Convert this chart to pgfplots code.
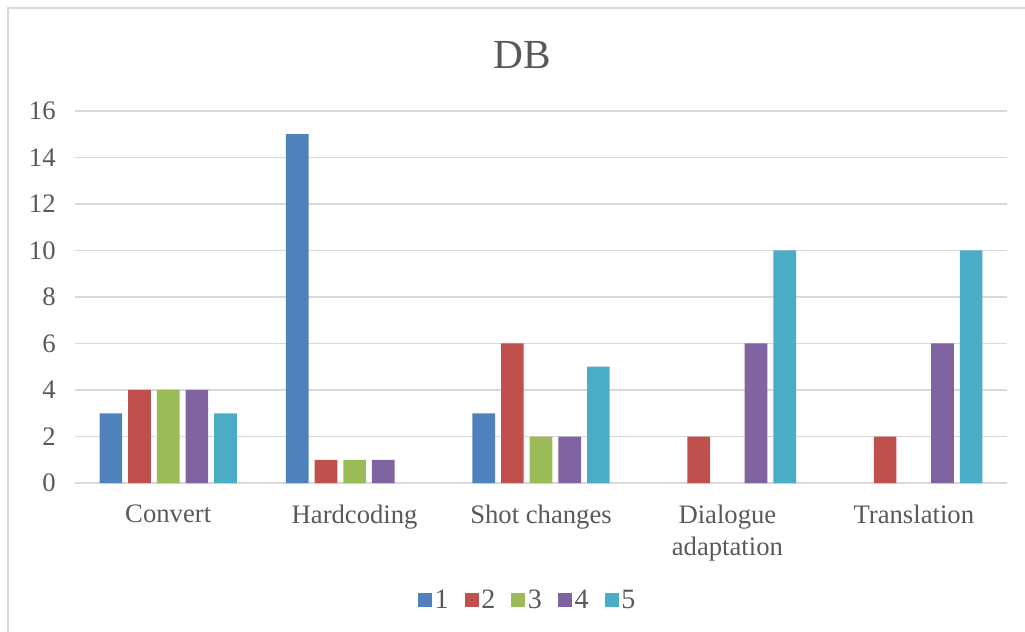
\documentclass[border=0pt]{standalone}
\usepackage{pgfplots}
\pgfplotsset{compat=1.18}
\usepackage{fontspec}
\setmainfont{Liberation Serif}
\definecolor{s1}{HTML}{4F81BD}
\definecolor{s2}{HTML}{C0504D}
\definecolor{s3}{HTML}{9BBB59}
\definecolor{s4}{HTML}{8064A2}
\definecolor{s5}{HTML}{4BACC6}
\definecolor{gridc}{HTML}{D9D9D9}
\definecolor{txt}{HTML}{595959}
\begin{document}
\begin{tikzpicture}[x=0.75pt,y=0.75pt]
\useasboundingbox (0,0) rectangle (1025,632);
\draw[gridc,line width=1.2pt] (8,-5) -- (8,624) -- (1030,624);
\node[txt,font=\fontsize{31}{36}\selectfont] at (522,577) {DB};
\begin{axis}[
  at={(56.25pt,111.75pt)}, anchor=south west,
  width=699pt, height=279pt, scale only axis,
  ybar=4.5pt, bar width=17pt,
  xmin=-0.5, xmax=4.5, ymin=0, ymax=16,
  ytick={0,2,...,16}, xtick={0,1,2,3,4},
  xticklabels={Convert,Hardcoding,Shot changes,{Dialogue\\adaptation},Translation},
  axis line style={draw=none},
  ymajorgrids, grid style={gridc,line width=1.2pt},
  major tick length=0pt,
  tick label style={txt,font=\fontsize{20}{24}\selectfont},
  x tick label style={align=center,anchor=north,yshift=-13pt},
  y tick label style={xshift=-11pt},
  /pgf/number format/assume math mode=true,
  y filter/.expression={y==0 ? nan : y},
  unbounded coords=discard,
  legend columns=-1,
  legend style={draw=none,at={(0.486,-0.3145)},anchor=center,
    nodes={font=\fontsize{21}{24}\selectfont,text=txt},
    /tikz/every even column/.append style={column sep=10pt}},
  legend image code/.code={\draw[#1,draw=none] (0pt,-5.25pt) rectangle (10.5pt,5.25pt);},
]
\addplot[fill=s1,draw=none] coordinates {(0,3) (1,15) (2,3) (3,0) (4,0)};
\addplot[fill=s2,draw=none] coordinates {(0,4) (1,1) (2,6) (3,2) (4,2)};
\addplot[fill=s3,draw=none] coordinates {(0,4) (1,1) (2,2) (3,0) (4,0)};
\addplot[fill=s4,draw=none] coordinates {(0,4) (1,1) (2,2) (3,6) (4,6)};
\addplot[fill=s5,draw=none] coordinates {(0,3) (1,0) (2,5) (3,10) (4,10)};
\legend{1,2,3,4,5}
\end{axis}
\end{tikzpicture}
\end{document}
